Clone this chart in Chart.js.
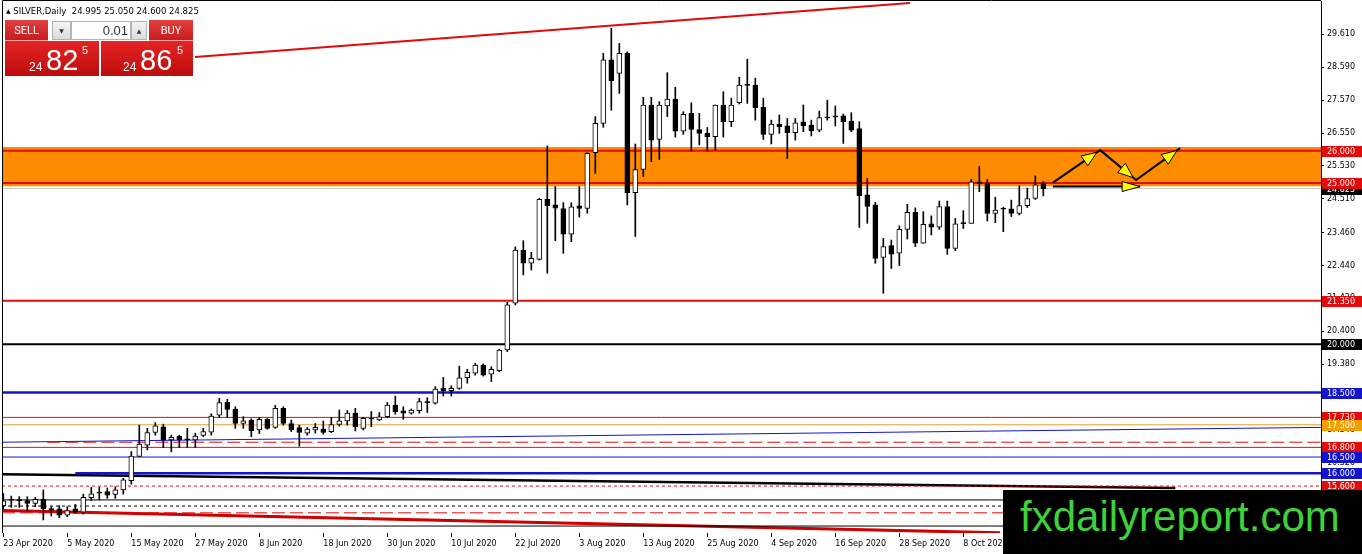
<!DOCTYPE html>
<html>
<head>
<meta charset="utf-8">
<script src="https://cdn.jsdelivr.net/npm/chart.js@4.4.1/dist/chart.umd.min.js"></script>
<style>
html, body { margin: 0; padding: 0; background: #fff; }
#wrap { position: relative; width: 1362px; height: 554px; overflow: hidden; }
#c { position: absolute; left: 0; top: 0; }
.abs { position: absolute; white-space: nowrap; line-height: 1; }
#title { left: 6px; top: 6px; font: 8.5px "DejaVu Sans"; color: #000; }
#title span { font-size: 6px; vertical-align: 1px; }
.btn { position: absolute; top: 20px; height: 21px; color: #fff; font: 11px Roboto; line-height: 21px;
  text-align: center; background: linear-gradient(#e24040, #c51b1b); box-shadow: inset 0 -2px 0 -1px #f0a0a0; }
.box { position: absolute; top: 21px; height: 17px; border: 1px solid #b4b4b4; font: 6px "DejaVu Sans"; color: #333;
  text-align: center; line-height: 17px; background: linear-gradient(#f4f4f4, #dcdcdc); }
.big { position: absolute; top: 41px; height: 35px; background: linear-gradient(#e62424, #bb0c0c); color: #fff;
  font-family: "Liberation Sans"; }
.big span { position: absolute; line-height: 1; }
#wm { left: 1003px; top: 490px; width: 359px; height: 64px; background: #000; }
#wm div { position: absolute; left: 17px; top: 6px; font: 42px "Liberation Sans"; color: #3fd13a; line-height: 1; }
</style>
</head>
<body>
<div id="wrap">
  <canvas id="c" width="1362" height="554"></canvas>
  <div id="title" class="abs"><span>▲</span> SILVER,Daily&nbsp; 24.995 25.050 24.600 24.825</div>
  <div class="btn" style="left:5px;width:43px;">SELL</div>
  <div class="box" style="left:52px;width:17px;">▼</div>
  <div class="box" style="left:71px;background:#fff;text-align:right;font:13px 'Liberation Sans';line-height:17px;padding-right:2px;width:56px;">0.01</div>
  <div class="box" style="left:131px;width:14px;">▲</div>
  <div class="btn" style="left:149px;width:44px;">BUY</div>
  <div class="big" style="left:5px;width:94px;">
    <span style="left:24px;top:20px;font-size:12px;">24</span>
    <span style="left:41px;top:5px;font-size:29px;">82</span>
    <span style="left:77px;top:4px;font-size:11px;">5</span>
  </div>
  <div class="big" style="left:101px;width:92px;">
    <span style="left:22px;top:20px;font-size:12px;">24</span>
    <span style="left:39px;top:5px;font-size:29px;">86</span>
    <span style="left:76px;top:4px;font-size:11px;">5</span>
  </div>
  <div id="wm" class="abs"><div>fxdailyreport.com</div></div>
</div>
<script>
// DATA - daily bars, 23 Apr 2020 .. 21 Oct 2020
const opens = [14.99,15.16,15.17,15.15,15.06,15.19,14.90,14.89,14.70,14.89,
  14.79,15.24,15.38,15.43,15.34,15.48,15.77,16.52,16.87,17.26,
  17.44,17.03,17.15,17.03,17.03,17.17,17.27,17.80,18.20,17.99,
  17.54,17.65,17.34,17.67,17.42,18.01,17.54,17.41,17.24,17.34,
  17.37,17.29,17.51,17.62,17.86,17.39,17.68,17.65,17.75,18.11,
  17.93,17.86,17.94,18.19,18.17,18.63,18.56,18.63,18.96,19.10,
  19.35,19.07,19.18,19.82,21.27,22.92,22.51,22.63,24.49,24.32,
  24.21,23.41,24.29,24.21,25.94,26.85,28.82,28.40,29.02,24.70,
  25.42,27.42,26.35,27.39,27.60,26.61,27.16,26.66,26.54,26.44,
  27.42,26.90,27.49,28.05,28.04,27.35,26.51,26.83,26.77,26.56,
  26.90,26.80,26.64,27.02,27.07,27.08,26.92,26.69,24.63,24.32,
  22.69,23.06,22.82,23.56,24.09,23.13,23.73,23.63,24.27,22.97,
  23.74,23.75,25.04,24.99,24.06,24.19,24.20,24.06,24.30,24.52,
  24.995];
const highs = [15.37,15.29,15.27,15.27,15.25,15.48,14.96,14.99,14.96,15.03,
  15.35,15.56,15.56,15.54,15.58,15.84,16.67,17.49,17.39,17.57,
  17.52,17.18,17.18,17.39,17.24,17.39,17.84,18.32,18.29,18.06,
  17.75,17.69,17.73,17.69,18.10,18.06,17.65,17.49,17.42,17.54,
  17.62,17.73,17.96,17.94,18.01,17.73,17.91,17.88,18.19,18.39,
  18.06,17.99,18.32,18.34,18.68,18.97,18.71,19.32,19.22,19.41,
  19.39,19.30,19.84,21.30,23.02,23.21,22.85,24.52,26.15,24.89,
  24.39,24.39,24.89,25.94,27.06,29.02,29.80,29.33,29.07,26.21,
  27.66,27.66,27.52,28.42,27.97,27.21,27.49,27.16,26.72,27.42,
  27.83,27.63,28.28,28.84,28.25,27.63,26.95,27.11,27.00,27.00,
  27.42,26.95,27.23,27.57,27.39,27.14,27.18,26.90,25.14,24.40,
  23.28,23.23,23.67,24.34,24.23,24.11,23.98,24.44,24.44,23.90,
  24.14,25.11,25.51,25.11,24.56,24.25,24.47,24.91,24.84,25.22,
  25.05];
const lows = [14.88,14.94,14.94,14.81,14.96,14.55,14.67,14.62,14.65,14.75,
  14.73,15.15,15.17,15.22,15.22,15.35,15.66,16.52,16.72,17.18,
  16.80,16.66,16.80,16.80,16.80,17.13,17.18,17.73,17.72,17.39,
  17.39,17.13,17.23,17.36,17.39,17.49,17.29,16.84,17.18,17.24,
  17.21,17.26,17.46,17.49,17.31,17.34,17.44,17.63,17.73,17.83,
  17.67,17.83,17.86,17.88,18.14,18.39,18.39,18.60,18.79,19.04,
  19.01,18.84,19.15,19.77,21.22,22.15,22.30,22.61,22.20,23.21,
  22.82,23.18,23.94,24.06,25.30,26.73,27.26,27.78,24.32,23.34,
  25.20,25.66,25.73,27.06,26.42,26.51,25.99,26.18,25.99,26.02,
  26.42,26.75,27.45,27.47,26.95,26.35,26.21,26.54,25.76,26.33,
  26.59,26.46,26.59,26.95,26.77,26.23,26.59,23.62,23.75,22.51,
  21.58,22.35,22.44,23.26,23.03,23.13,23.39,23.56,22.79,22.90,
  23.59,23.75,24.73,23.82,23.77,23.49,23.96,24.01,24.24,24.49,
  24.60];
const closes = [15.14,15.18,15.15,15.06,15.19,14.89,14.85,14.70,14.84,14.79,
  15.25,15.36,15.40,15.32,15.48,15.79,16.53,16.90,17.26,17.47,
  17.03,17.11,17.03,17.05,17.15,17.29,17.77,18.19,17.98,17.54,
  17.62,17.32,17.67,17.39,18.01,17.54,17.34,17.26,17.37,17.42,
  17.26,17.51,17.62,17.86,17.44,17.70,17.70,17.75,18.11,17.91,
  17.86,17.96,18.22,18.20,18.61,18.56,18.63,18.96,19.13,19.35,
  19.04,19.22,19.82,21.22,22.92,22.51,22.66,24.49,24.30,24.22,
  23.41,24.26,24.21,25.92,26.85,28.82,28.17,29.02,24.70,25.42,
  27.42,26.33,27.42,27.60,26.61,27.13,26.66,26.54,26.44,27.42,
  26.90,27.42,28.04,28.03,27.34,26.51,26.83,26.75,26.56,26.87,
  26.77,26.62,27.03,27.04,27.05,26.90,26.64,24.61,24.27,22.66,
  23.03,22.79,23.56,24.09,23.13,23.72,23.63,24.27,22.97,23.73,
  23.76,25.04,24.99,24.06,24.16,24.20,24.06,24.30,24.52,24.94,
  24.825];

// one date label every 8 bars
const dateLabels = ['23 Apr 2020','5 May 2020','15 May 2020','27 May 2020','8 Jun 2020','18 Jun 2020',
  '30 Jun 2020','10 Jul 2020','22 Jul 2020','3 Aug 2020','13 Aug 2020','25 Aug 2020',
  '4 Sep 2020','16 Sep 2020','28 Sep 2020','8 Oct 2020'];
const priceTicks = [29.61, 28.59, 27.57, 26.55, 25.53, 24.51, 23.46, 22.44, 21.42, 20.40, 19.38, 18.36, 17.34, 16.32, 15.30];

// horizontal levels
const zoneTop = 26.12, zoneBottom = 24.90;
const levelValues = [26.0, 25.0, 24.825, 21.35, 20.0, 18.5, 17.73, 17.5, 16.96, 16.8, 16.5, 16.0, 15.6, 15.17, 14.98, 14.77, 14.36];
const levelStart  = [null, null, null, null, null, null, null, null, 5.5, null, null, 9, null, null, null, null, null];
// sloping lines: [bar, price] pairs
const topTrend = [[23.96, 28.91], [113.34, 30.58]];
const blueTrend = [[-0.2, 16.96], [164.7, 17.42]];
const blackTrend = [[-0.2, 15.97], [146.5, 15.54]];
const redTrend = [[-0.2, 14.84], [124.6, 14.15]];
// projection arrows
const zigzag = [[131.2, 25.01], [137.1, 26.02], [141.6, 25.09], [147.1, 26.08]];
const flatArrow = [[131.2, 24.89], [142.1, 24.89]];
// price tags on the right axis
const tagValues = [26.0, 24.825, 25.0, 21.35, 20.0, 18.5, 17.73, 17.5, 16.8, 16.5, 16.0, 15.6];

const X_MIN = -0.1625, X_MAX = 164.71;
const Y_MIN = 14.144, Y_MAX = 30.645;

// STYLES
const RED = '#e00b0b', BLUE = '#1414c8', ORANGE = '#e0a030';
const levelStyles = [
  [RED, 2, []], [RED, 2, []], ['#c4c4c4', 1, []], [RED, 2, []], ['#000', 2, []], [BLUE, 2.5, []],
  [RED, 1, []], [ORANGE, 1, []], [RED, 1, [13, 5]], [RED, 1, []], [BLUE, 1, []], [BLUE, 2.5, []],
  [RED, 1, [3, 3]], ['#000', 1, []], ['#000', 1, [3, 3]], [RED, 1, [13, 5]], ['#000', 1, []]
];
const tagColors = [RED, '#000', RED, RED, '#000', BLUE, RED, '#f0a000', RED, BLUE, BLUE, RED];

function seg(points, color, width, dash, order) {
  return {
    type: 'line', data: points.map(p => ({ x: p[0], y: p[1] })),
    borderColor: color, borderWidth: width, borderDash: dash || [],
    pointRadius: 0, tension: 0, fill: false, order: order
  };
}

const datasets = [];

// BODIES and WICKS
datasets.push({
  type: 'bar', grouped: false, order: 0,
  data: opens.map((o, i) => ({ x: i, y: [o, closes[i]] })),
  backgroundColor: opens.map((o, i) => (closes[i] - o > 0.035 ? '#fff' : '#000')),
  borderColor: '#000', borderWidth: 1, borderSkipped: false,
  maxBarThickness: 5, barPercentage: 1, categoryPercentage: 1, minBarLength: 1
});
datasets.push({
  type: 'bar', grouped: false, order: 1,
  data: highs.map((h, i) => ({ x: i, y: [lows[i], h] })),
  backgroundColor: '#000', borderWidth: 0,
  maxBarThickness: 1, barPercentage: 1, categoryPercentage: 1
});

// arrows
datasets.push(seg(zigzag, '#000', 2, [], 0));
datasets.push(seg(flatArrow, '#000', 2, [], 0));

// lines
levelValues.forEach((v, k) => {
  const st = levelStyles[k];
  const x0 = levelStart[k] === null ? X_MIN : levelStart[k];
  datasets.push(seg([[x0, v], [X_MAX, v]], st[0], st[1], st[2], 3));
});
datasets.push(seg(topTrend, RED, 2, [], 3));
datasets.push(seg(blueTrend, BLUE, 1, [], 3));
datasets.push(seg(blackTrend, '#000', 2.5, [], 3));
datasets.push(seg(redTrend, '#d00000', 3, [], 3));

// zone
datasets.push({
  type: 'line', data: [{ x: X_MIN, y: zoneTop }, { x: X_MAX, y: zoneTop }],
  borderColor: 'rgba(0,0,0,0)', borderWidth: 1, pointRadius: 0,
  fill: { value: zoneBottom }, backgroundColor: '#ff8c00', order: 9
});

// ARROWHEADS, FRAME, PRICE TAGS
function head(ctx, x1, y1, x2, y2, back, len, half) {
  const d = Math.hypot(x2 - x1, y2 - y1);
  const ux = (x2 - x1) / d, uy = (y2 - y1) / d;
  const tx = x2 - ux * back, ty = y2 - uy * back;
  const bx = tx - ux * len, by = ty - uy * len;
  ctx.beginPath();
  ctx.moveTo(tx, ty);
  ctx.lineTo(bx - uy * half, by + ux * half);
  ctx.lineTo(bx + uy * half, by - ux * half);
  ctx.closePath();
  ctx.fillStyle = '#ffff00'; ctx.fill();
  ctx.strokeStyle = '#000'; ctx.lineWidth = 1; ctx.stroke();
}

const overlay = {
  id: 'overlay',
  afterDraw(chart) {
    const { ctx, chartArea: a, scales: { x, y } } = chart;
    ctx.save();
    ctx.strokeStyle = '#000'; ctx.lineWidth = 1;
    ctx.beginPath();
    ctx.moveTo(a.left + 0.5, a.bottom); ctx.lineTo(a.left + 0.5, 0.5); ctx.lineTo(a.right, 0.5);
    ctx.stroke();

    for (let k = 1; k < zigzag.length; k++) {
      head(ctx, x.getPixelForValue(zigzag[k - 1][0]), y.getPixelForValue(zigzag[k - 1][1]),
        x.getPixelForValue(zigzag[k][0]), y.getPixelForValue(zigzag[k][1]), 4, 15, 6);
    }
    head(ctx, x.getPixelForValue(flatArrow[0][0]), y.getPixelForValue(flatArrow[0][1]),
      x.getPixelForValue(flatArrow[1][0]), y.getPixelForValue(flatArrow[1][1]), 0, 18, 5);

    ctx.font = '8px "DejaVu Sans"';
    ctx.textBaseline = 'middle'; ctx.textAlign = 'left';
    tagValues.forEach((v, k) => {
      const py = Math.round(y.getPixelForValue(v));
      ctx.fillStyle = tagColors[k];
      ctx.fillRect(a.right + 1, py - 5, 40, 11);
      ctx.fillStyle = '#fff';
      ctx.fillText(v.toFixed(3), a.right + 6, py + 1);
    });
    ctx.restore();
  }
};

Chart.defaults.font.family = '"DejaVu Sans"';
Chart.defaults.font.size = 8;
Chart.defaults.color = '#000';

new Chart(document.getElementById('c'), {
  type: 'bar',
  data: { datasets: datasets },
  options: {
    responsive: false, animation: false, devicePixelRatio: 1,
    layout: { padding: { left: 2, top: 1, right: 0, bottom: 0 } },
    plugins: { legend: { display: false }, tooltip: { enabled: false } },
    scales: {
      x: {
        type: 'linear', min: X_MIN, max: X_MAX, offset: false,
        grid: { offset: false, drawOnChartArea: false, color: '#000', tickLength: 4 },
        border: { display: false },
        afterBuildTicks: s => { s.ticks = dateLabels.map((d, k) => ({ value: k * 8 })); },
        afterFit: s => { s.height = 21; s.paddingLeft = 0; s.paddingRight = 0; },
        ticks: {
          autoSkip: false, maxRotation: 0, align: 'start', padding: 2,
          callback: v => dateLabels[Math.round(v / 8)]
        }
      },
      y: {
        position: 'right', min: Y_MIN, max: Y_MAX,
        grid: { drawOnChartArea: false, color: '#000', tickLength: 3 },
        border: { display: true, color: '#000' },
        afterBuildTicks: s => { s.ticks = priceTicks.map(v => ({ value: v })); },
        afterFit: s => { s.width = 41; s.paddingTop = 0; s.paddingBottom = 0; },
        ticks: { autoSkip: false, padding: 3, callback: v => v.toFixed(3) }
      }
    }
  },
  plugins: [overlay]
});
</script>
</body>
</html>
